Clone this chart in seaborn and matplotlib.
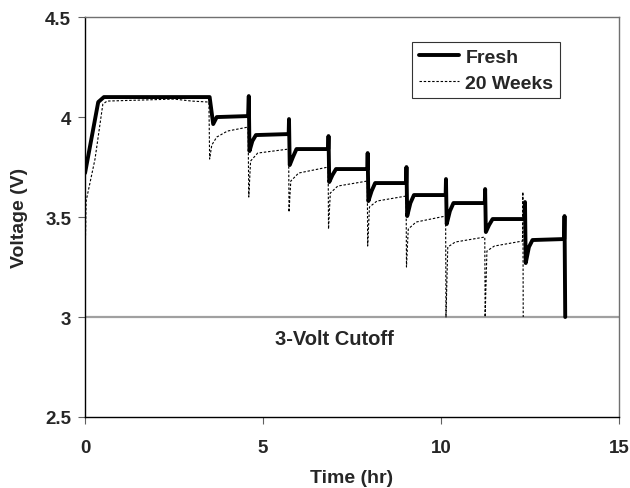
import matplotlib
matplotlib.use("Agg")
import matplotlib.pyplot as plt
import seaborn as sns
import pandas as pd

# ---- data ----
fresh_t = [0.00, 0.37, 0.53, 3.50, 3.60, 3.70, 4.58, 4.60, 4.62, 4.70, 4.80,
           5.72, 5.73, 5.75, 5.84, 5.94, 6.83, 6.84, 6.86, 6.95, 7.05,
           7.93, 7.94, 7.96, 8.05, 8.15, 9.02, 9.03, 9.05, 9.14, 9.24,
           10.13, 10.14, 10.16, 10.25, 10.35, 11.23, 11.24, 11.26, 11.35, 11.45,
           12.35, 12.36, 12.38, 12.47, 12.57, 13.46, 13.47, 13.49]
fresh_v = [3.72, 4.075, 4.10, 4.10, 3.965, 4.00, 4.005, 4.105, 3.83, 3.88, 3.91,
           3.915, 3.99, 3.76, 3.80, 3.84, 3.84, 3.905, 3.675, 3.71, 3.74,
           3.74, 3.82, 3.58, 3.63, 3.67, 3.67, 3.75, 3.505, 3.57, 3.61,
           3.61, 3.69, 3.465, 3.53, 3.57, 3.57, 3.64, 3.425, 3.46, 3.49,
           3.49, 3.575, 3.27, 3.35, 3.385, 3.39, 3.505, 3.00]

weeks_t = [0.00, 0.03, 0.28, 0.50, 0.62, 2.50, 3.00, 3.48, 3.50, 3.56, 3.70, 4.00,
           4.58, 4.60, 4.65, 4.85, 5.72, 5.73, 5.78, 6.00, 6.83, 6.84, 6.89, 7.10,
           7.93, 7.94, 7.99, 8.20, 9.02, 9.03, 9.08, 9.30, 10.13, 10.14, 10.19, 10.40,
           11.23, 11.24, 11.29, 11.50, 12.29, 12.30, 12.31]
weeks_v = [3.28, 3.58, 3.79, 4.065, 4.08, 4.09, 4.08, 4.075, 3.79, 3.86, 3.90, 3.93,
           3.95, 3.60, 3.78, 3.82, 3.84, 3.525, 3.68, 3.72, 3.75, 3.44, 3.62, 3.655,
           3.68, 3.355, 3.55, 3.58, 3.605, 3.25, 3.44, 3.475, 3.505, 3.00, 3.35, 3.375,
           3.40, 3.00, 3.33, 3.355, 3.38, 3.625, 3.00]

series_names = ["Fresh", "20 Weeks"]
cutoff_v = 3.0
cutoff_label = "3-Volt Cutoff"
x_ticks = [0, 5, 10, 15]
y_ticks = [2.5, 3, 3.5, 4, 4.5]
y_tick_labels = ["2.5", "3", "3.5", "4", "4.5"]

df = pd.concat([
    pd.DataFrame({"t": fresh_t, "v": fresh_v, "series": series_names[0]}),
    pd.DataFrame({"t": weeks_t, "v": weeks_v, "series": series_names[1]}),
], ignore_index=True)

sns.set_style("white")
plt.rcParams["font.family"] = ["Liberation Sans", "DejaVu Sans"]
plt.rcParams["font.weight"] = "bold"

fig = plt.figure(figsize=(6.3, 4.89), dpi=100)
ax = fig.add_axes([0.135, 0.1452, 0.8475, 0.8178])

ax.axhline(cutoff_v, color="#a0a0a0", lw=1.6, zorder=1)

sns.lineplot(data=df, x="t", y="v", hue="series", style="series",
             hue_order=series_names, style_order=series_names,
             palette=["black", "black"],
             dashes={"Fresh": "", "20 Weeks": (2.2, 1.6)},
             size="series", sizes={"Fresh": 2.8, "20 Weeks": 0.8},
             size_order=series_names,
             sort=False, estimator=None, ax=ax, legend=True, zorder=3)

ax.set_xlim(0, 15)
ax.set_ylim(2.5, 4.5)
ax.set_xticks(x_ticks)
ax.set_yticks(y_ticks)
ax.set_xticklabels([str(v) for v in x_ticks])
ax.set_yticklabels(y_tick_labels)
ax.tick_params(axis="both", labelsize=13.5, direction="out", length=5, width=0.8,
               color="#606060")
ax.tick_params(axis="x", pad=11, bottom=True)
ax.tick_params(axis="y", pad=5, left=True)
for lab in ax.get_xticklabels() + ax.get_yticklabels():
    lab.set_fontweight("bold")

ax.set_xlabel("Time (hr)", fontsize=14, fontweight="bold", labelpad=9)
ax.set_ylabel("Voltage (V)", fontsize=14, fontweight="bold", labelpad=12)

for s in ["left", "bottom"]:
    ax.spines[s].set_color("black")
    ax.spines[s].set_linewidth(1.0)
for s in ["top", "right"]:
    ax.spines[s].set_color("#707070")
    ax.spines[s].set_linewidth(1.0)

ax.text(7.0, 2.895, cutoff_label, ha="center", va="center", fontsize=14.5, fontweight="bold")

handles, labels = ax.get_legend_handles_labels()
pairs = [(h, l) for h, l in zip(handles, labels) if l in series_names]
leg = ax.legend([p[0] for p in pairs], [p[1] for p in pairs],
                loc="upper left", bbox_to_anchor=(0.612, 0.938),
                frameon=True, fancybox=False, edgecolor="black",
                prop={"size": 14, "weight": "bold"}, handlelength=2.1,
                handletextpad=0.3, borderpad=0.35, labelspacing=0.4,
                borderaxespad=0)
leg.get_frame().set_linewidth(0.8)

fig.savefig("out.png", dpi=100)
